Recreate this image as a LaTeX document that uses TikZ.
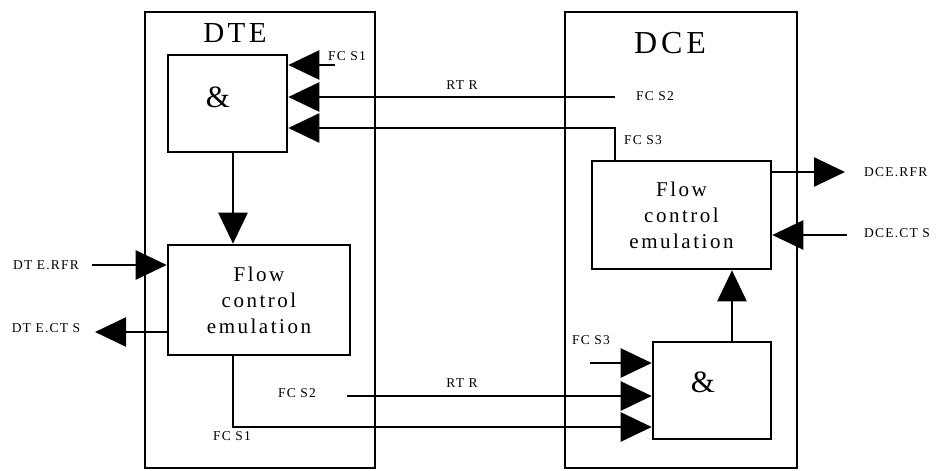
\documentclass[tikz,border=0pt]{standalone}
\usepackage{fontspec}
\setmainfont{Liberation Serif}
\newfontfamily\lblfont[LetterSpace=9]{Liberation Serif}
\newfontfamily\boxfont[LetterSpace=12]{Liberation Serif}
\newfontfamily\titlefont[LetterSpace=12]{Liberation Serif}
\usetikzlibrary{arrows.meta}
\tikzset{
  box/.style={draw, line width=2.6pt, inner sep=0pt},
  wire/.style={line width=2.6pt},
  arr/.style={wire, -{Triangle[length=31pt,width=29pt]}},
  lbl/.style={font=\lblfont\fontsize{13.5}{15}\selectfont, inner sep=0pt},
  ttl/.style={font=\titlefont\fontsize{29}{32}\selectfont, inner sep=0pt},
  amp/.style={font=\fontsize{31}{32}\selectfont, inner sep=0pt},
  flowtxt/.style={align=center, font=\boxfont\fontsize{21}{26}\selectfont}
}
\begin{document}
\begin{tikzpicture}[x=1pt,y=-1pt]
\useasboundingbox (0,0) rectangle (938,471);
% outer boxes
\node[box, minimum width=230pt, minimum height=456pt] (dte) at (260,240) {};
\node[box, minimum width=232pt, minimum height=456pt] (dce) at (681,240) {};
\node[ttl] (dtet) at (235,33) {DTE};
\node[ttl, font=\titlefont\fontsize{32}{34}\selectfont] (dcet) at (670,43) {DCE};
% inner boxes
\node[box, minimum width=119pt, minimum height=97pt] (andA) at (227.5,103.5) {};
\node[amp] (ampA) at (218,97) {\&};
\node[box, flowtxt, minimum width=182pt, minimum height=110pt] (flowA) at (259,300) {Flow\\control\\emulation};
\node[box, flowtxt, minimum width=179pt, minimum height=108pt] (flowB) at (681.5,215) {Flow\\control\\emulation};
\node[box, minimum width=118pt, minimum height=97pt] (andB) at (712,390.5) {};
\node[amp] (ampB) at (703,382) {\&};
% coordinates
\coordinate (s1a) at (335,65);
\coordinate (rtrA) at (615,97);
\coordinate (b3) at (615,128);
\coordinate (xA) at (233,0);
\coordinate (rfrA) at (92,265);
\coordinate (ctsA) at (95,332);
\coordinate (c1) at (233,427);
\coordinate (rtrB) at (347,396);
\coordinate (s3b) at (590,363);
\coordinate (xB) at (732,0);
\coordinate (rfrB) at (845,172);
\coordinate (ctsB) at (847,235);
% connectors
\draw[arr] (s1a) -- (s1a -| andA.east);
\draw[arr] (rtrA) -- (rtrA -| andA.east);
\draw[arr] (b3 |- flowB.north) -- (b3) -- (b3 -| andA.east);
\draw[arr] (andA.south -| xA) -- (flowA.north -| xA);
\draw[arr] (rfrA) -- (rfrA -| flowA.west);
\draw[arr] (ctsA -| flowA.west) -- (ctsA);
\draw[arr] (flowA.south -| c1) -- (c1) -- (c1 -| andB.west);
\draw[arr] (rtrB) -- (rtrB -| andB.west);
\draw[arr] (s3b) -- (s3b -| andB.west);
\draw[arr] (andB.north -| xB) -- (flowB.south -| xB);
\draw[arr] (rfrB -| flowB.east) -- (rfrB);
\draw[arr] (ctsB) -- (ctsB -| flowB.east);
% labels
\node[lbl] (l1) at (347,56) {FC S1};
\node[lbl] (l2) at (462,85) {RT R};
\node[lbl] (l3) at (655,96) {FC S2};
\node[lbl] (l4) at (643,140) {FC S3};
\node[lbl, anchor=west] (l5) at (864,172) {DCE.RFR};
\node[lbl, anchor=west] (l6) at (864,233) {DCE.CT S};
\node[lbl] (l7) at (46,265) {DT E.RFR};
\node[lbl] (l8) at (46,328) {DT E.CT S};
\node[lbl] (l9) at (297,393) {FC S2};
\node[lbl] (l10) at (232,436) {FC S1};
\node[lbl] (l11) at (591,340) {FC S3};
\node[lbl] (l12) at (462,383) {RT R};
\end{tikzpicture}
\end{document}
